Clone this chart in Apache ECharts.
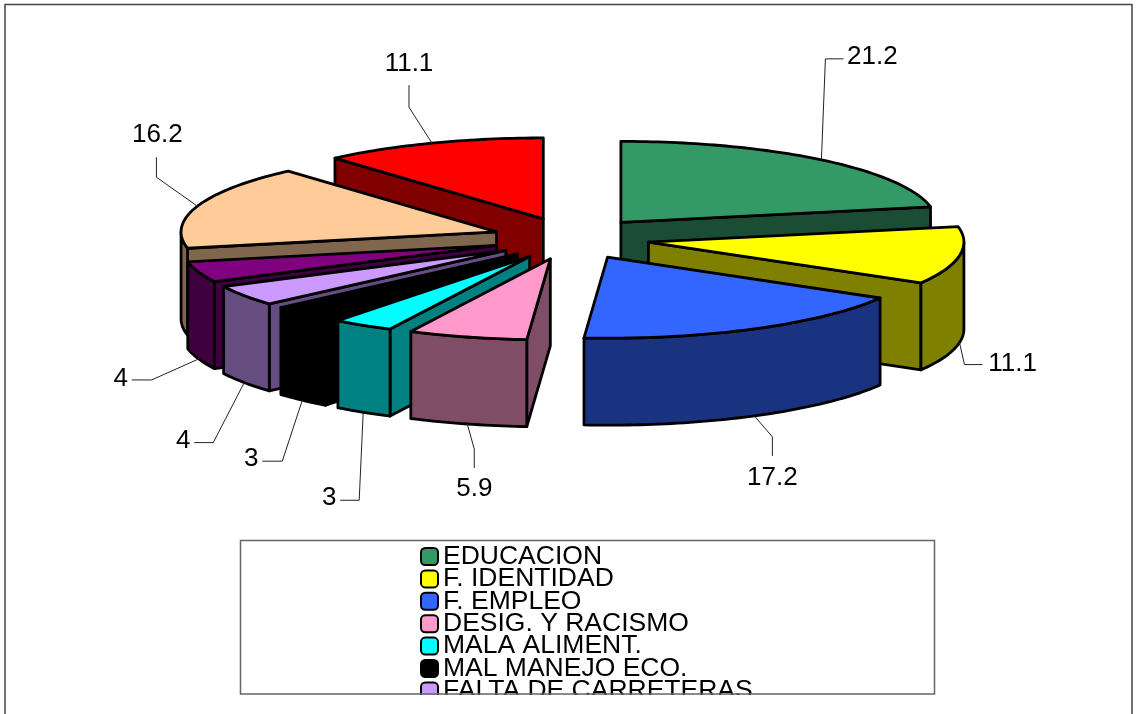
<!DOCTYPE html>
<html>
<head>
<meta charset="utf-8">
<style>html,body{margin:0;padding:0;background:#fff}#c{width:1136px;height:714px}</style>
<script src="https://cdn.jsdelivr.net/npm/echarts@6/dist/echarts.min.js"></script>
</head>
<body>
<div id="c"></div>
<script>
const categories = ['EDUCACION','F. IDENTIDAD','F. EMPLEO','DESIG. Y RACISMO','MALA ALIMENT.','MAL MANEJO ECO.','FALTA DE CARRETERAS','Categoría 8','Categoría 9','Categoría 10'];
const values = [21.2,11.1,17.2,5.9,3,3,4,4,16.2,11.1];
const topColors = ['#339966','#ffff00','#3366ff','#ff99cc','#00ffff','#000000','#cc99ff','#800080','#ffcc99','#ff0000'];
const wallColors = ['#1a4d33','#808000','#1a3380','#804d66','#008080','#000000','#664d80','#400040','#80664d','#800000'];
const visibleLegendCount = 7;

// Projection of the tilted pie
const pie = {cx:571, cy:238.6, rx:315.5, ry:81, explodeX:78.5, explodeY:21, depth:87};
// Leader geometry relative to the slice rim: [elbow dx,dy, end dx,dy, text dx,dy]
const leaderOffsets = [
  [4,-101, 18,0, 29,-2],
  [5,22, 18,0, 30,-1],
  [18,21, 0,19, 0,22],
  [7,25, 0,19, 0,21],
  [-4,88, -19,0, -11,-2],
  [-20,61, -20,0, -11,-2],
  [-31,60, -19,0, -11,-2],
  [-47,21, -20,0, -11,-1],
  [-41,-29, 0,-20, 1,-22],
  [-23,-36, 0,-22, 0,-21]
];

const total = values.reduce((a,b)=>a+b,0);
const slices = [];
let acc = 0;
values.forEach((v,i)=>{
  const a0 = acc/total*2*Math.PI; acc += v;
  const a1 = acc/total*2*Math.PI, m = (a0+a1)/2;
  slices.push({a0,a1,m,
    ax: pie.cx+pie.explodeX*Math.sin(m),
    ay: pie.cy-pie.explodeY*Math.cos(m)});
});
const rim = (s,a,d)=>[s.ax+pie.rx*Math.sin(a), s.ay-pie.ry*Math.cos(a)+(d||0)];
const arc = (s,from,to,d)=>{
  const n = Math.max(2,Math.ceil((to-from)/0.02)), pts=[];
  for(let k=0;k<=n;k++) pts.push(rim(s,from+(to-from)*k/n,d));
  return pts;
};
const face = (points,fill)=>({type:'polygon',shape:{points},
  style:{fill,stroke:'#000',lineWidth:2.8,lineJoin:'round'}});

function renderSlice(i){
  const s = slices[i], d = pie.depth, children = [], wall = wallColors[i];
  const lo = Math.max(s.a0,Math.PI/2), hi = Math.min(s.a1,3*Math.PI/2);
  if(Math.sin(s.a0)<0){
    const p=rim(s,s.a0);
    children.push(face([[s.ax,s.ay],p,[p[0],p[1]+d],[s.ax,s.ay+d]],wall));
  }
  if(Math.sin(s.a1)>0){
    const p=rim(s,s.a1);
    children.push(face([[s.ax,s.ay],p,[p[0],p[1]+d],[s.ax,s.ay+d]],wall));
  }
  if(hi>lo) children.push(face(arc(s,lo,hi,0).concat(arc(s,lo,hi,d).reverse()),wall));
  children.push(face([[s.ax,s.ay]].concat(arc(s,s.a0,s.a1,0)),topColors[i]));
  return {type:'group',children};
}
function renderLabel(params,api){
  const i = params.dataIndex, s = slices[i], o = leaderOffsets[i];
  const front = Math.cos(s.m)<0;
  const p0 = rim(s,s.m,front?pie.depth:0);
  const p1 = [p0[0]+o[0],p0[1]+o[1]], p2 = [p1[0]+o[2],p1[1]+o[3]];
  return {type:'group',children:[
    {type:'polyline',shape:{points:[p0,p1,p2]},style:{fill:null,stroke:'#222',lineWidth:1}},
    {type:'text',style:{text:String(api.value(0)),x:p2[0]+o[4],y:p2[1]+o[5],
      align:'center',verticalAlign:'middle',fill:'#000',
      font:'26px "Liberation Sans", Arial, sans-serif'}}
  ]};
}
const paintOrder = values.map((_,i)=>i).sort((a,b)=>slices[a].ay-slices[b].ay);
const series = paintOrder.map((i,rank)=>({
  type:'custom',name:categories[i],coordinateSystem:'none',z:2+rank*0.01,
  itemStyle:{color:topColors[i]},silent:true,
  data:[[values[i]]],
  renderItem:()=>renderSlice(i)
}));
series.push({type:'custom',name:'Etiquetas',coordinateSystem:'none',z:3,silent:true,
  data:values.map(v=>[v]),renderItem:renderLabel});

const chart = echarts.init(document.getElementById('c'),null,{renderer:'canvas'});
chart.setOption({
  animation:false,
  backgroundColor:'#fff',
  tooltip:{show:false},
  legend:{
    data:categories.slice(0,visibleLegendCount),
    orient:'vertical',left:420,top:543,height:400,padding:0,
    itemWidth:17,itemHeight:17,itemGap:-4.6,icon:'roundRect',
    selectedMode:false,
    itemStyle:{borderColor:'#000',borderWidth:2},
    textStyle:{fontFamily:'"Liberation Sans", Arial, sans-serif',fontSize:26.5,color:'#000'}
  },
  graphic:[
    {type:'rect',z:20,silent:true,shape:{x:6,y:695,width:1125,height:19},style:{fill:'#fff'}},
    {type:'rect',z:21,silent:true,shape:{x:240.5,y:540.5,width:694,height:153.5},style:{fill:null,stroke:'#666',lineWidth:1.5}},
    {type:'polyline',z:21,silent:true,shape:{points:[[5,714],[5,4.5],[1132,4.5],[1132,714]]},style:{fill:null,stroke:'#444',lineWidth:1.5}}
  ],
  series
});
</script>
</body>
</html>
